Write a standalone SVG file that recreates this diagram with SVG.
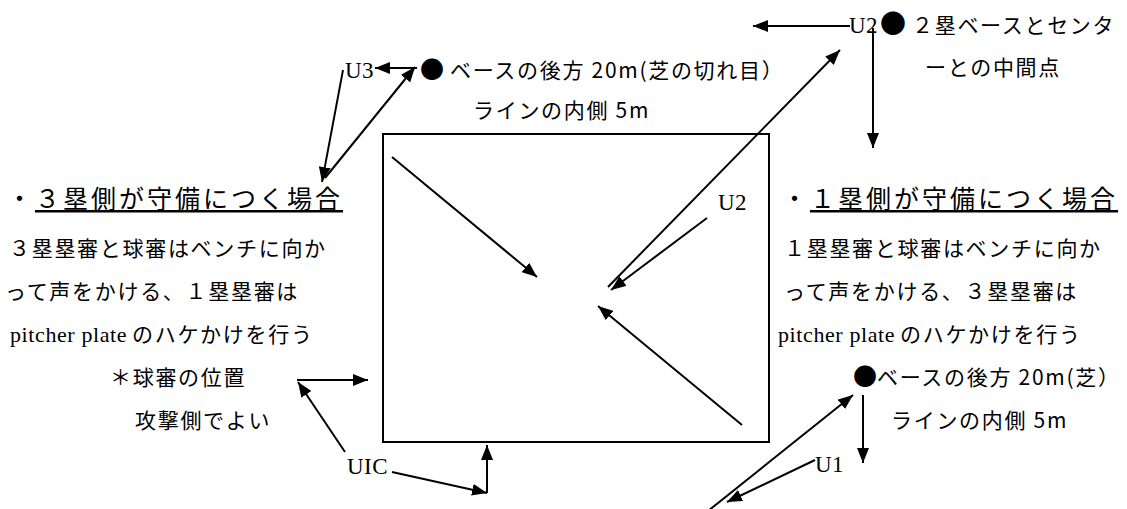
<svg xmlns="http://www.w3.org/2000/svg" width="1127" height="509" viewBox="0 0 1127 509">
<style>
.cj{font-family:"Noto Sans CJK JP",sans-serif;font-size:21px;letter-spacing:1.7px;fill:#000}
.dot{font-family:"Noto Sans CJK JP",sans-serif;font-size:24px;fill:#000}
.hd{font-family:"Noto Sans CJK JP",sans-serif;font-size:25px;letter-spacing:3px;fill:#000}
.lat{font-family:"Liberation Serif",serif;font-size:23px;letter-spacing:0.5px;fill:#000}
.pp{font-family:"Liberation Serif",serif;font-size:22px;letter-spacing:0.6px;fill:#000}
.ul{text-decoration:underline}
.c{stroke:#000;stroke-width:2;fill:none;marker-end:url(#ah)}
.box{stroke:#000;stroke-width:2;fill:none}
</style>
<defs>
<marker id="ah" markerUnits="userSpaceOnUse" markerWidth="16" markerHeight="12" refX="15" refY="6" orient="auto">
<path d="M0,0 L15,6 L0,12 z" fill="#000"/>
</marker>
</defs>
<g id="field"><rect class="box" x="383" y="134" width="386" height="308"/></g>
<g id="u2-top">
<text class="lat" x="849" y="33">U2</text>
<text class="dot" x="880" y="33" style="font-size:26px">●</text>
<text class="cj" x="912" y="33">２塁ベースとセンタ</text>
<text class="cj" x="925" y="75">ーとの中間点</text>
</g>
<g id="u3-top">
<text class="lat" x="345" y="78">U3</text>
<text y="78"><tspan class="dot" x="420">●</tspan><tspan class="cj" x="450">ベースの後方 20m(芝の切れ目）</tspan></text>
<text class="cj" x="473" y="118">ラインの内側 5m</text>
</g>
<g id="left-note">
<text class="hd" x="7" y="208">・<tspan class="ul">３塁側が守備につく場合</tspan></text>
<text class="cj" x="9" y="256">３塁塁審と球審はベンチに向か</text>
<text class="cj" x="5" y="299">って声をかける、１塁塁審は</text>
<text y="342"><tspan class="pp" x="10">pitcher plate</tspan><tspan class="cj" x="132">のハケかけを行う</tspan></text>
<text class="cj" x="110" y="385">＊球審の位置</text>
<text class="cj" x="135" y="428">攻撃側でよい</text>
</g>
<g id="right-note">
<text class="hd" x="782" y="208">・<tspan class="ul">１塁側が守備につく場合</tspan></text>
<text class="cj" x="784" y="256">１塁塁審と球審はベンチに向か</text>
<text class="cj" x="784" y="299">って声をかける、３塁塁審は</text>
<text y="342"><tspan class="pp" x="778">pitcher plate</tspan><tspan class="cj" x="900">のハケかけを行う</tspan></text>
<text y="385"><tspan class="dot" x="853">●</tspan><tspan class="cj" x="877">ベースの後方 20m(芝）</tspan></text>
<text class="cj" x="891" y="428">ラインの内側 5m</text>
</g>
<g id="u2-inner"><text class="lat" x="718" y="210">U2</text></g>
<g id="u1"><text class="lat" x="815" y="472">U1</text></g>
<g id="uic"><text class="lat" x="347" y="474">UIC</text></g>
<g id="connectors">
<path class="c" d="M850,26 L753,26"/>
<path class="c" d="M873,28 L873,148"/>
<path class="c" d="M608,287 L840,50"/>
<path class="c" d="M707,218 L611,290"/>
<path class="c" d="M392,157 L537,277"/>
<path class="c" d="M742,425 L598,306"/>
<path class="c" d="M417,68 L375,68"/>
<path class="c" d="M343,70 L322,182"/>
<path class="c" d="M325,178 L415,67"/>
<path class="c" d="M345,452 L298,382"/>
<path class="c" d="M297,380 L368,380"/>
<path class="c" d="M392,472 L487,493"/>
<path class="c" d="M487,493 L487,445"/>
<path class="c" d="M863,395 L863,463"/>
<path class="c" d="M708,511 L853,395"/>
<path class="c" d="M815,460 L727,502"/>
</g>
</svg>
